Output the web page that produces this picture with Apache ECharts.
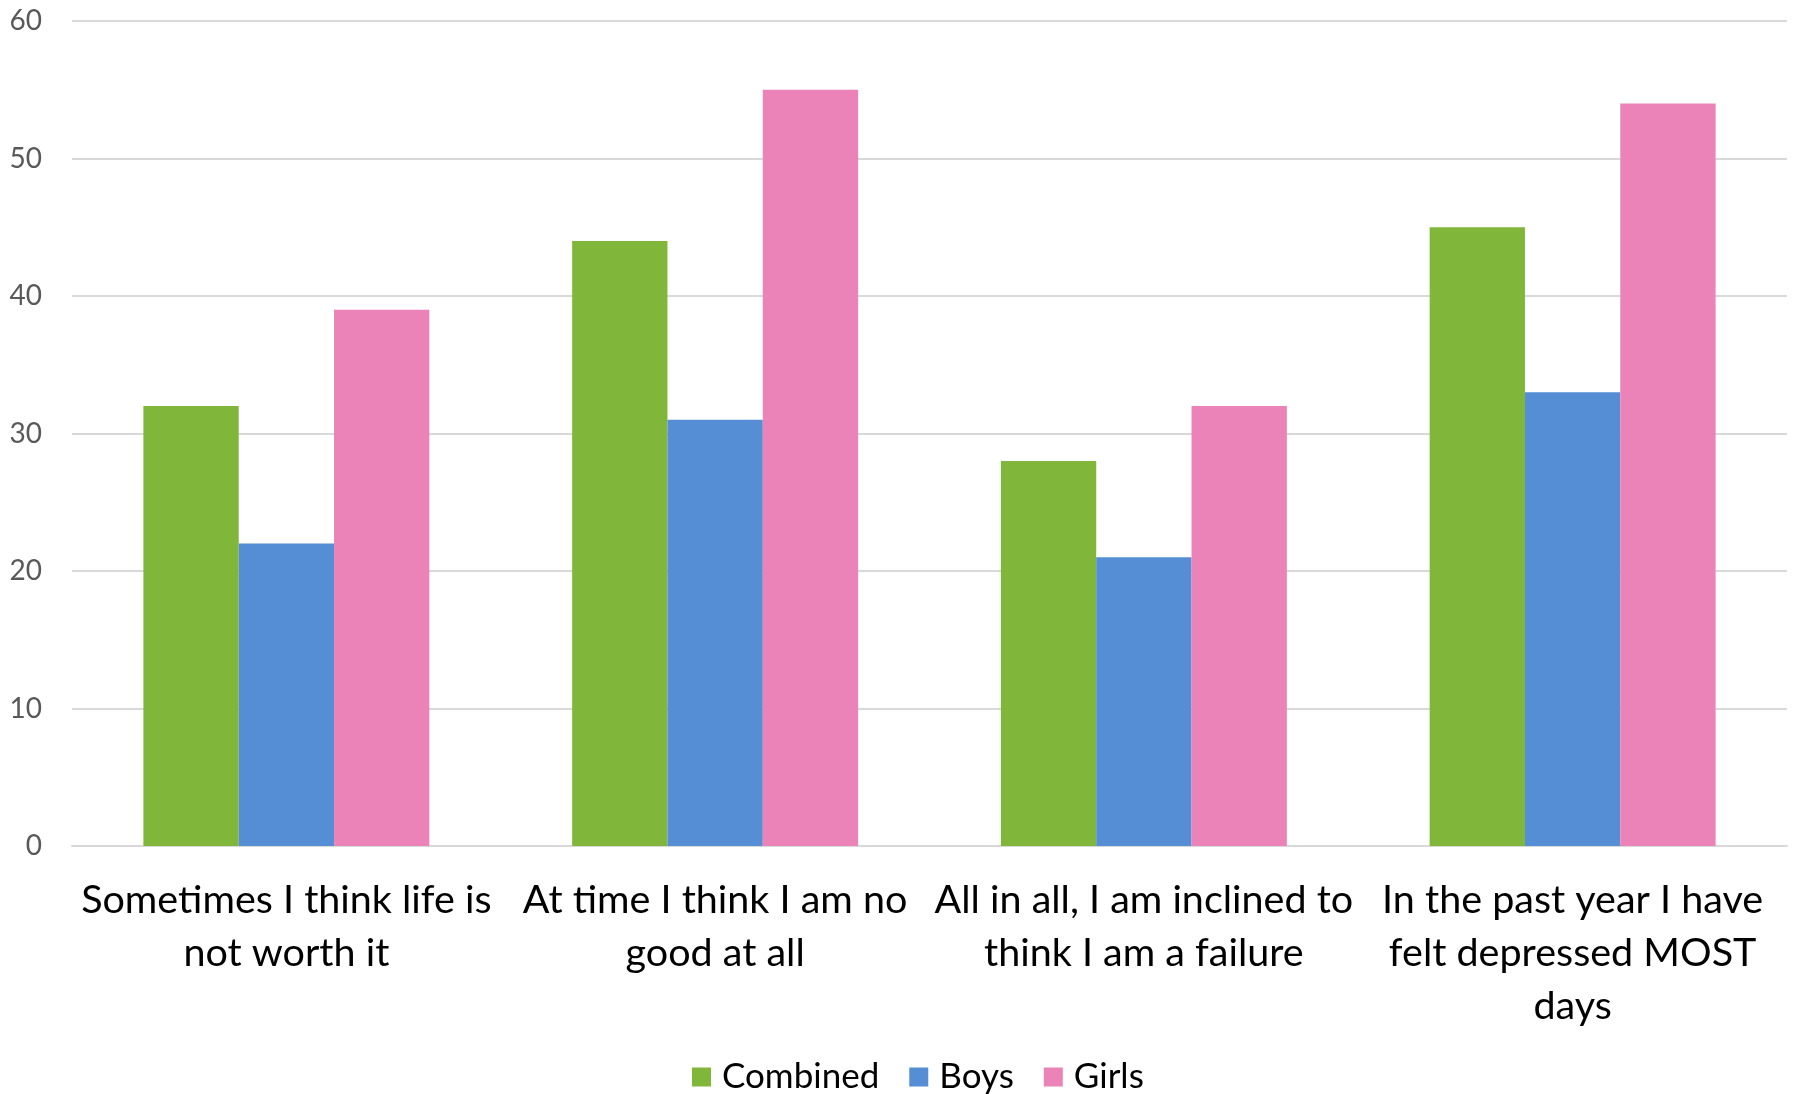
<!DOCTYPE html>
<html><head><meta charset="utf-8">
<script src="https://cdn.jsdelivr.net/npm/echarts@6/dist/echarts.min.js"></script>
<style>html,body{margin:0;padding:0;background:#fff}#c{width:1800px;height:1094px}</style>
</head><body><div id="c"></div>
<script>
const categories = [
  "Sometimes I think life is\nnot worth it",
  "At time I think I am no\ngood at all",
  "All in all, I am inclined to\nthink I am a failure",
  "In the past year I have\nfelt depressed MOST\ndays"
];
const seriesNames = ["Combined", "Boys", "Girls"];
const combined = [32, 44, 28, 45];
const boys = [22, 31, 21, 33];
const girls = [39, 55, 32, 54];
const colors = ["#80B73B", "#558ED5", "#EB83B8"];
const FONT = "Lato";

const chart = echarts.init(document.getElementById('c'));
chart.setOption({
  animation: false,
  backgroundColor: '#ffffff',
  textStyle: { fontFamily: FONT },
  grid: { left: 72, right: 13, top: 21, bottom: 248, containLabel: false },
  legend: {
    top: 1051, left: 687,
    itemWidth: 19, itemHeight: 19, itemGap: 30,
    textStyle: { fontSize: 35, lineHeight: 42, color: '#000', fontFamily: FONT, padding: [0, 0, 0, 6] },
    icon: 'rect',
    data: seriesNames
  },
  xAxis: {
    type: 'category', data: categories,
    axisLine: { lineStyle: { color: '#d9d9d9', width: 2 } },
    axisTick: { show: false },
    axisLabel: { fontSize: 39.5, color: '#000', lineHeight: 53, margin: 28, interval: 0, fontFamily: FONT }
  },
  yAxis: {
    type: 'value', min: 0, max: 60, interval: 10,
    axisLine: { show: false }, axisTick: { show: false },
    splitLine: { lineStyle: { color: '#d9d9d9', width: 2 } },
    axisLabel: { fontSize: 28, color: '#595959', margin: 30, fontFamily: FONT }
  },
  series: [
    { name: seriesNames[0], type: 'bar', data: combined, itemStyle: { color: colors[0] }, barGap: '0%', barCategoryGap: '33.3%' },
    { name: seriesNames[1], type: 'bar', data: boys, itemStyle: { color: colors[1] }, barGap: '0%', barCategoryGap: '33.3%' },
    { name: seriesNames[2], type: 'bar', data: girls, itemStyle: { color: colors[2] }, barGap: '0%', barCategoryGap: '33.3%' }
  ]
});
</script></body></html>
